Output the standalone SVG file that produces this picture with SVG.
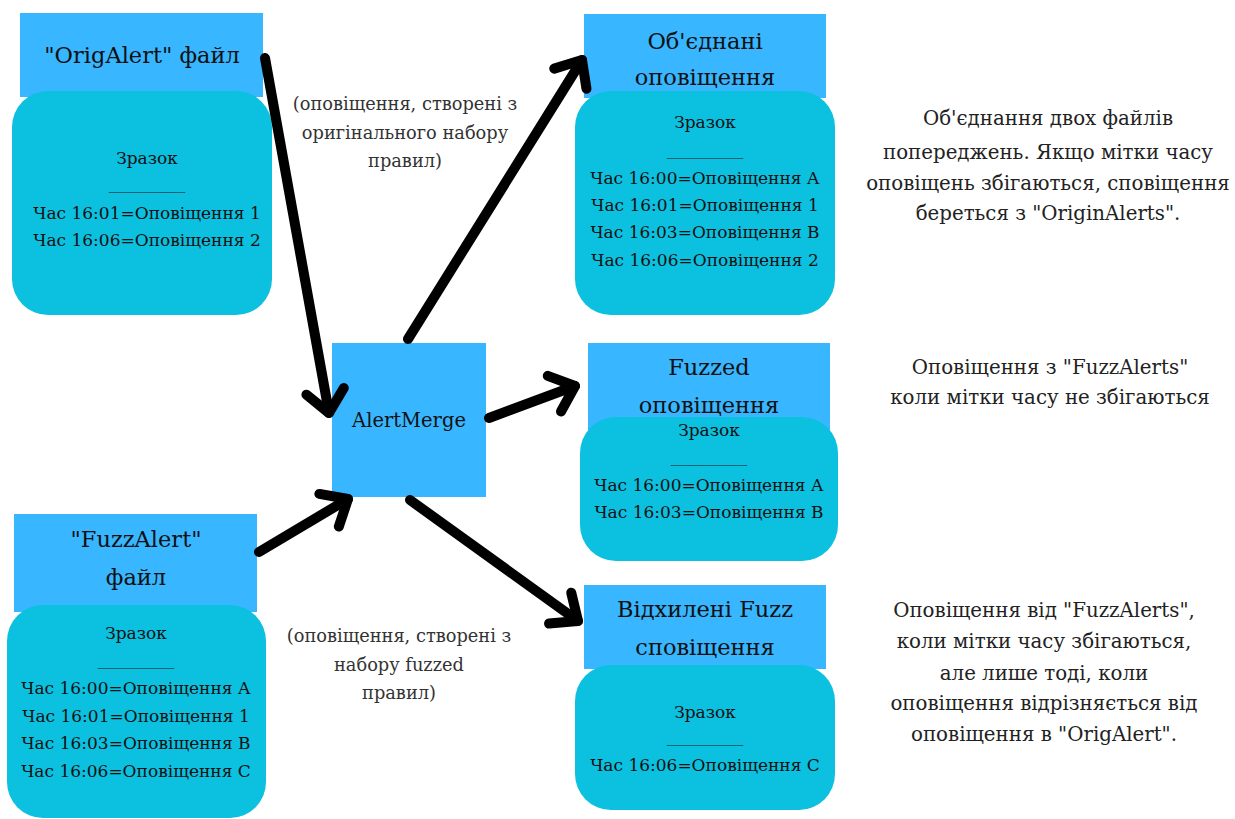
<svg xmlns="http://www.w3.org/2000/svg" width="1235" height="819" viewBox="0 0 1235 819">
<style>
.hdr{fill:#38B6FF}
.body{fill:#0CC0DF}
text{font-family:"DejaVu Serif","Liberation Serif",serif;text-anchor:middle;fill:#111}
.t{font-size:22.5px}
.b{font-size:17px}
.n{font-size:17.8px;fill:#333}
.r{font-size:19.8px;fill:#222}
.conn{stroke:#000;stroke-width:10;fill:none;stroke-linecap:round;marker-end:url(#arr)}
</style>
<defs>
<marker id="arr" markerUnits="userSpaceOnUse" markerWidth="60" markerHeight="60" refX="0" refY="0" orient="auto" overflow="visible">
<path d="M-22,-19 L0,0 L-22,19" stroke="#000" stroke-width="10" fill="none" stroke-linecap="round" stroke-linejoin="round"/>
</marker>
</defs>
<rect width="1235" height="819" fill="#fff"/>

<g id="orig">
<rect class="hdr" x="20" y="13" width="243" height="84"/>
<rect class="body" x="12" y="91" width="260" height="224" rx="36"/>
<text class="t" x="142" y="63">"OrigAlert" файл</text>
<text class="b" x="147" y="164">Зразок</text>
<text class="b" x="147" y="189">_________</text>
<text class="b" x="147" y="219">Час 16:01=Оповіщення 1</text>
<text class="b" x="147" y="246">Час 16:06=Оповіщення 2</text>
</g>

<g id="merged">
<rect class="hdr" x="584" y="14" width="242" height="84"/>
<rect class="body" x="575" y="91" width="260" height="224" rx="36"/>
<text class="t" x="705" y="49">Об'єднані</text>
<text class="t" x="705" y="85">оповіщення</text>
<text class="b" x="705" y="128">Зразок</text>
<text class="b" x="705" y="155">_________</text>
<text class="b" x="705" y="184">Час 16:00=Оповіщення А</text>
<text class="b" x="705" y="211">Час 16:01=Оповіщення 1</text>
<text class="b" x="705" y="238">Час 16:03=Оповіщення В</text>
<text class="b" x="705" y="266">Час 16:06=Оповіщення 2</text>
</g>

<g id="alertmerge">
<rect class="hdr" x="332" y="343" width="154" height="154"/>
<text x="409" y="427" style="font-size:19.5px">AlertMerge</text>
</g>

<g id="fuzzed">
<rect class="hdr" x="588" y="343" width="242" height="88"/>
<rect class="body" x="580" y="417" width="258" height="144" rx="36"/>
<text class="t" x="709" y="375">Fuzzed</text>
<text class="t" x="709" y="413">оповіщення</text>
<text class="b" x="709" y="436">Зразок</text>
<text class="b" x="709" y="462">_________</text>
<text class="b" x="709" y="491">Час 16:00=Оповіщення А</text>
<text class="b" x="709" y="518">Час 16:03=Оповіщення В</text>
</g>

<g id="fuzzalert">
<rect class="hdr" x="14" y="514" width="243" height="98"/>
<rect class="body" x="7" y="605" width="259" height="213" rx="36"/>
<text class="t" x="136" y="547">"FuzzAlert"</text>
<text class="t" x="136" y="585">файл</text>
<text class="b" x="136" y="639">Зразок</text>
<text class="b" x="136" y="665">_________</text>
<text class="b" x="136" y="694">Час 16:00=Оповіщення А</text>
<text class="b" x="136" y="722">Час 16:01=Оповіщення 1</text>
<text class="b" x="136" y="749">Час 16:03=Оповіщення В</text>
<text class="b" x="136" y="777">Час 16:06=Оповіщення С</text>
</g>

<g id="rejected">
<rect class="hdr" x="584" y="585" width="242" height="84"/>
<rect class="body" x="575" y="665" width="260" height="145" rx="36"/>
<text class="t" x="705" y="617">Відхилені Fuzz</text>
<text class="t" x="705" y="655">сповіщення</text>
<text class="b" x="705" y="718">Зразок</text>
<text class="b" x="705" y="742">_________</text>
<text class="b" x="705" y="771">Час 16:06=Оповіщення С</text>
</g>

<g id="connectors">
<path class="conn" d="M265,58 L329,413"/>
<path class="conn" d="M408,339 L582,60"/>
<path class="conn" d="M489,418 L575,386"/>
<path class="conn" d="M259,552 L348,499"/>
<path class="conn" d="M410,500 L578,621"/>
</g>

<g id="labels">
<text class="n" x="405" y="110">(оповіщення, створені з</text>
<text class="n" x="405" y="139">оригінального набору</text>
<text class="n" x="405" y="167">правил)</text>
<text class="n" x="399" y="642">(оповіщення, створені з</text>
<text class="n" x="399" y="671">набору fuzzed</text>
<text class="n" x="399" y="699">правил)</text>
</g>

<g id="notes">
<text class="r" x="1048" y="125">Об'єднання двох файлів</text>
<text class="r" x="1048" y="159">попереджень. Якщо мітки часу</text>
<text class="r" x="1048" y="190">оповіщень збігаються, сповіщення</text>
<text class="r" x="1048" y="220">береться з "OriginAlerts".</text>
<text class="r" x="1050" y="374">Оповіщення з "FuzzAlerts"</text>
<text class="r" x="1050" y="404">коли мітки часу не збігаються</text>
<text class="r" x="1044" y="617">Оповіщення від "FuzzAlerts",</text>
<text class="r" x="1044" y="648">коли мітки часу збігаються,</text>
<text class="r" x="1044" y="680">але лише тоді, коли</text>
<text class="r" x="1044" y="710">оповіщення відрізняється від</text>
<text class="r" x="1044" y="741">оповіщення в "OrigAlert".</text>
</g>
</svg>
